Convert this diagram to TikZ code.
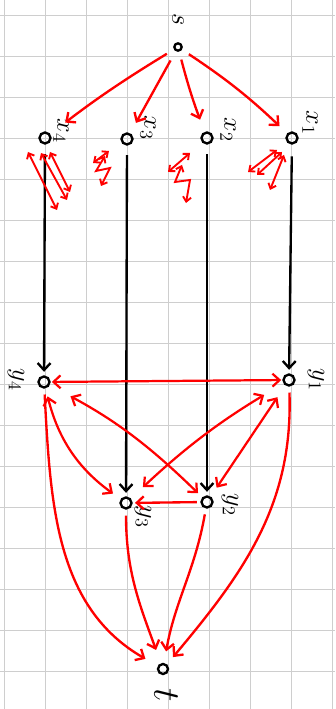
\documentclass[tikz,border=0pt]{standalone}
\usepackage{amsmath}
\usepackage{tikz}
\usetikzlibrary{arrows.meta}
\definecolor{penRed}{RGB}{255,0,0}
\definecolor{penBlack}{RGB}{0,0,0}
\definecolor{paperGrid}{RGB}{206,206,206}

\begin{document}
\begin{tikzpicture}[x=0.03cm,y=0.03cm,
  vert/.style={circle,draw=penBlack,line width=2pt,inner sep=0pt,minimum size=0.33cm},
  tag/.style={text=penBlack,rotate=-90,font=\LARGE,scale=1.3},
  drop/.style={penBlack,line width=2pt,-{Straight Barb[length=6pt,width=11pt]}},
  flow/.style={penRed,line width=2pt,-{Straight Barb[length=6pt,width=11pt]}},
  both/.style={penRed,line width=1.9pt,{Straight Barb[length=6pt,width=11pt]}-{Straight Barb[length=6pt,width=11pt]}},
  scrib/.style={penRed,line width=1.6pt,{Straight Barb[length=4pt,width=7pt]}-{Straight Barb[length=4pt,width=7pt]}}]

\useasboundingbox (0,0) rectangle (335,709);
\fill[white] (0,0) rectangle (335,709);

% grid paper
\foreach \gx in {4,45,...,332}
  \draw[paperGrid,line width=0.8pt] (\gx,0) -- (\gx,709);
\foreach \gy in {38,79,...,694}
  \draw[paperGrid,line width=0.8pt] (0,\gy) -- (335,\gy);

% vertices
\node[vert,minimum size=0.22cm] (s) at (178,662) {};
\node[vert] (x4) at (45,571) {};
\node[vert] (x3) at (127,570) {};
\node[vert] (x2) at (207,571) {};
\node[vert] (x1) at (292,571) {};
\node[vert] (y4) at (44,327) {};
\node[vert] (y1) at (289,329) {};
\node[vert] (y3) at (126,206) {};
\node[vert] (y2) at (207,207) {};
\node[vert,minimum size=0.3cm] (t) at (163,40) {};

% labels, written sideways
\node[tag] (ls) at (178,689) {$s$};
\node[tag] (lx4) at (61,578) {$x_4$};
\node[tag] (lx3) at (148,581) {$x_3$};
\node[tag] (lx2) at (228,579) {$x_2$};
\node[tag] (lx1) at (310,586) {$x_1$};
\node[tag] (ly4) at (16,329) {$y_4$};
\node[tag] (ly1) at (316,329) {$y_1$};
\node[tag] (ly3) at (143,192) {$y_3$};
\node[tag] (ly2) at (230,204) {$y_2$};
\node[tag,font=\Huge] (lt) at (166,14) {$t$};

% source edges
\draw[flow,shorten <=7pt,shorten >=16pt] (s) to[bend right=3] (x4);
\draw[flow,shorten <=9pt,shorten >=10pt] (s) -- (x3);
\draw[flow,shorten <=7pt,shorten >=11pt] (s) to[bend right=3] (x2);
\draw[flow,shorten <=7pt,shorten >=9pt] (s) to[bend left=5] (x1);

% x to y
\draw[drop,shorten <=8pt,shorten >=3pt] (x4) -- (y4);
\draw[drop,shorten <=8pt,shorten >=3pt] (x3) -- (y3);
\draw[drop,shorten <=8pt,shorten >=3pt] (x2) -- (y2);
\draw[drop,shorten <=10pt,shorten >=3pt] (x1) -- (y1);

% edges among x
\begin{scope}[shift={(x4)}]
\draw[scrib] (-17,-14) -- (12,-72);
\draw[scrib] (-4,-15) -- (22,-62);
\draw[scrib] (5,-14) -- (25,-54);
\end{scope}
\begin{scope}[shift={(x3)}]
\draw[scrib] (-34,-24) -- (-18,-12);
\draw[scrib] (-22,-17) -- (-31,-32) -- (-17,-29) -- (-26,-47);
\end{scope}
\begin{scope}[shift={(x2)}]
\draw[scrib] (-39,-34) -- (-17,-15);
\draw[scrib] (-25,-27) -- (-32,-44) -- (-17,-42) -- (-21,-65);
\end{scope}
\begin{scope}[shift={(x1)}]
\draw[scrib] (-44,-34) -- (-15,-12);
\draw[scrib] (-35,-37) -- (-10,-14);
\draw[scrib] (-22,-52) -- (-8,-17);
\end{scope}

% edges among y
\draw[both,shorten <=1pt,shorten >=1pt] (y4) -- (y1);
\draw[both,shorten <=20pt,shorten >=5pt] (y4) to[bend left=8] (y2);
\draw[both,shorten <=7pt,shorten >=8pt] (y4) to[bend right=20] (y3);
\draw[both,shorten <=19pt,shorten >=14pt] (y1) to[bend right=6] (y3);
\draw[both,shorten <=12pt,shorten >=9pt] (y1) -- (y2);
\draw[flow,shorten <=3pt,shorten >=2pt] (y2) -- (y3);

% sink edges
\draw[flow,shorten <=5pt,shorten >=12pt] (y4) to[out=-87,in=150] (t);
\draw[flow,shorten <=5pt,shorten >=12pt] (y3) to[out=-90,in=110] (t);
\draw[flow,shorten <=5pt,shorten >=10pt] (y2) to[out=-100,in=80] (t);
\draw[flow,shorten <=5pt,shorten >=8pt] (y1) to[out=-88,in=50] (t);
\end{tikzpicture}
\end{document}
